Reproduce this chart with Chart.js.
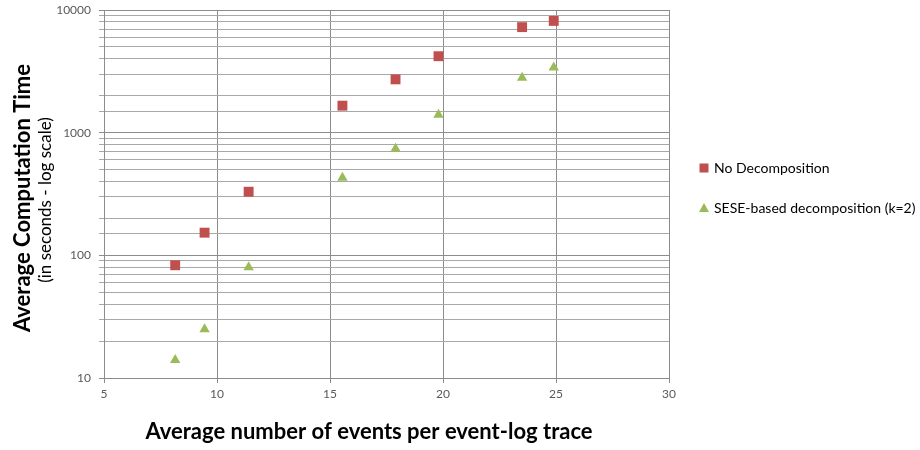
<!DOCTYPE html>
<html>
<head>
<meta charset="utf-8">
<script src="https://cdn.jsdelivr.net/npm/chart.js@4"></script>
<style>
  html, body { margin: 0; padding: 0; background: #ffffff; }
  #wrap { position: relative; width: 920px; height: 450px; }
</style>
</head>
<body>
<div id="wrap"><canvas id="c" width="920" height="450"></canvas></div>
<script>
// ---- data ----
const eventsPerTrace = [8.15, 9.45, 11.4, 15.55, 17.9, 19.8, 23.5, 24.9];
const noDecomposition = [83, 153, 330, 1660, 2720, 4200, 7250, 8150];
const seseDecomposition = [14, 25, 80, 430, 740, 1400, 2800, 3400];
const seriesNames = ['No Decomposition', 'SESE-based decomposition (k=2)'];
const xTickValues = [5, 10, 15, 20, 25, 30];
const yTickValues = [10, 100, 1000, 10000];
const xAxisTitle = 'Average number of events per event-log trace';
const yAxisTitle = 'Average Computation Time';
const yAxisSubtitle = '(in seconds - log scale)';

const FONT = 'Lato, "Open Sans", "Liberation Sans", sans-serif';
const RED = '#C0504D';
const GREEN = '#9BBB59';

function toPoints(xs, ys) { return xs.map((x, i) => ({ x: x, y: ys[i] })); }

const titlesAndLegend = {
  id: 'titlesAndLegend',
  afterDraw(chart) {
    const ctx = chart.ctx;
    ctx.save();
    ctx.fillStyle = '#000';
    ctx.textAlign = 'center';
    ctx.textBaseline = 'middle';
    ctx.save();
    ctx.translate(23, 198);
    ctx.rotate(-Math.PI / 2);
    ctx.font = 'bold 22px ' + FONT;
    ctx.fillText(yAxisTitle, 0, 0);
    ctx.restore();
    ctx.save();
    ctx.translate(46, 200);
    ctx.rotate(-Math.PI / 2);
    ctx.font = '17px ' + FONT;
    ctx.fillText(yAxisSubtitle, 0, 0);
    ctx.restore();
    // x title
    ctx.font = 'bold 22px ' + FONT;
    ctx.fillText(xAxisTitle, 369, 432);
    // legend
    const items = chart.data.datasets;
    const lx = 704, ly0 = 168, gap = 40;
    items.forEach((ds, i) => {
      const y = ly0 + i * gap;
      ctx.fillStyle = ds.backgroundColor;
      if (ds.pointStyle === 'rect') {
        ctx.fillRect(lx - 4.5, y - 4.5, 9, 9);
      } else {
        ctx.beginPath();
        ctx.moveTo(lx, y - 5);
        ctx.lineTo(lx + 5, y + 4);
        ctx.lineTo(lx - 5, y + 4);
        ctx.closePath();
        ctx.fill();
      }
      ctx.fillStyle = '#000';
      ctx.font = '14px ' + FONT;
      ctx.textAlign = 'left';
      ctx.fillText(ds.label, lx + 10, y);
    });
    ctx.restore();
  }
};

new Chart(document.getElementById('c'), {
  type: 'scatter',
  data: {
    datasets: [
      {
        label: seriesNames[0],
        data: toPoints(eventsPerTrace, noDecomposition),
        pointStyle: 'rect',
        pointRadius: 7,
        backgroundColor: RED,
        borderColor: RED,
        borderWidth: 0
      },
      {
        label: seriesNames[1],
        data: toPoints(eventsPerTrace, seseDecomposition),
        pointStyle: 'triangle',
        pointRadius: 6,
        backgroundColor: GREEN,
        borderColor: GREEN,
        borderWidth: 0
      }
    ]
  },
  options: {
    responsive: false,
    animation: false,
    devicePixelRatio: 1,
    layout: { padding: { top: 10, right: 251, left: 0, bottom: 0 } },
    plugins: {
      legend: { display: false },
      tooltip: { enabled: false }
    },
    scales: {
      x: {
        type: 'linear',
        min: 5,
        max: 30,
        afterFit(s) { s.height = 72; s.paddingLeft = 0; s.paddingRight = 0; },
        afterBuildTicks(s) { s.ticks = xTickValues.map(v => ({ value: v })); },
        ticks: {
          color: '#595959',
          font: { family: FONT, size: 12 },
          padding: 4,
          maxRotation: 0
        },
        grid: { color: '#8c8c8c', lineWidth: 1, tickLength: 5 },
        border: { color: '#8c8c8c', width: 1 }
      },
      y: {
        type: 'logarithmic',
        min: 10,
        max: 10000,
        afterFit(s) { s.width = 104; s.paddingTop = 0; s.paddingBottom = 0; },
        ticks: {
          autoSkip: false,
          color: '#595959',
          font: { family: FONT, size: 12 },
          padding: 8,
          callback(v) { return yTickValues.includes(v) ? String(v) : ''; }
        },
        grid: {
          tickLength: 5,
          lineWidth: 1,
          color(ctx) {
            const v = ctx.tick ? ctx.tick.value : 0;
            return yTickValues.includes(v) ? '#8c8c8c' : '#a8a8a8';
          }
        },
        border: { color: '#8c8c8c', width: 1 }
      }
    }
  },
  plugins: [titlesAndLegend]
});
</script>
</body>
</html>
